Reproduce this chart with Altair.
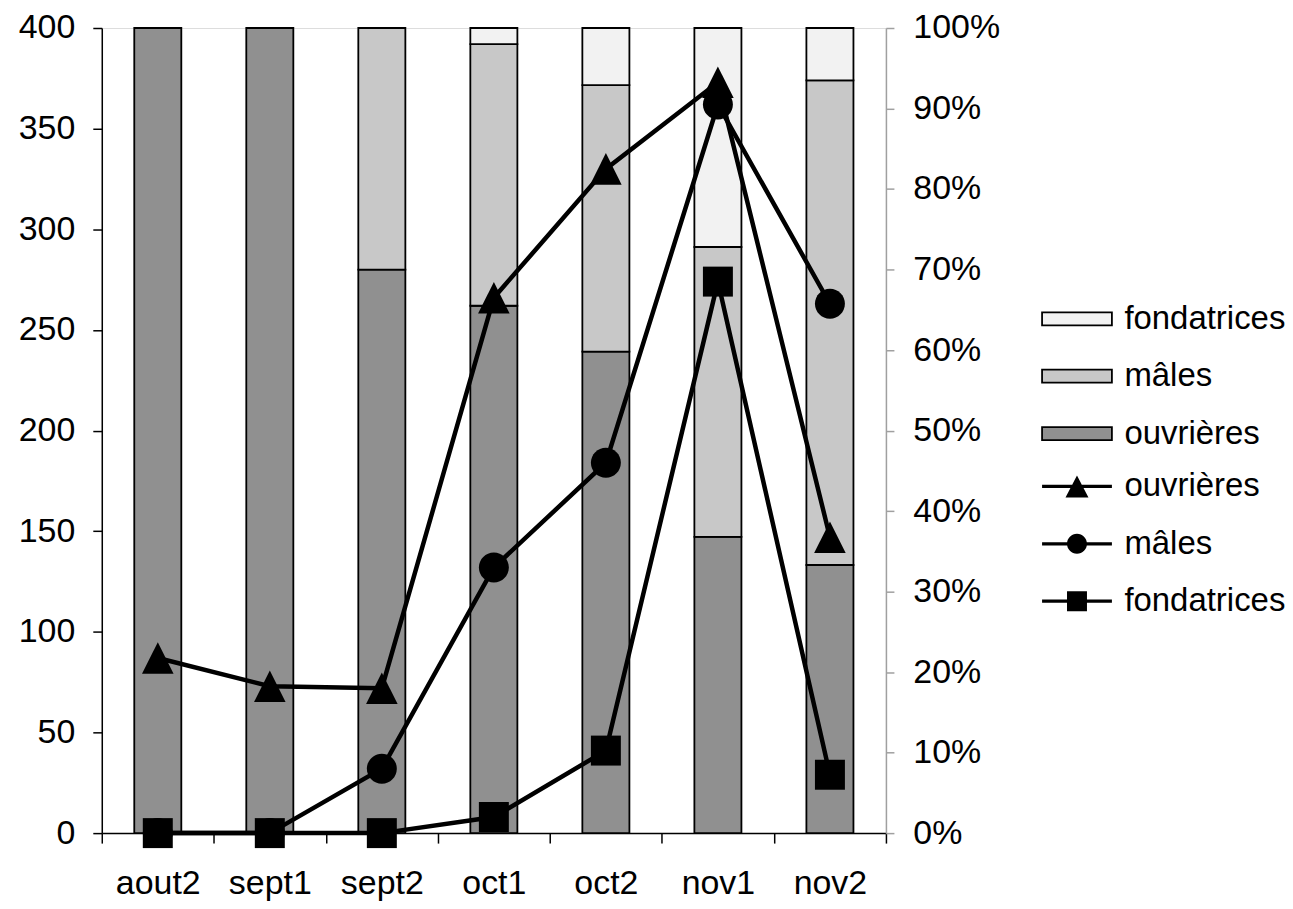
import altair as alt
import pandas as pd

categories = ["aout2", "sept1", "sept2", "oct1", "oct2", "nov1", "nov2"]

# stacked bars (right axis, %)
pct_ouvrieres = [100, 100, 70.0, 65.5, 59.8, 36.8, 33.3]
pct_males = [0, 0, 30.0, 32.5, 33.1, 36.0, 60.2]
pct_fondatrices = [0, 0, 0, 2.0, 7.1, 27.2, 6.5]

# lines (left axis, counts)
n_ouvrieres = [87, 73, 72, 266, 330, 373, 147]
n_males = [0, 0, 32, 132, 184, 362, 263]
n_fondatrices = [0, 0, 0, 8, 41, 274, 29]

bar_order = ["fondatrices", "mâles", "ouvrières"]
bar_colors = ["#f2f2f2", "#c8c8c8", "#909090"]
line_order = ["ouvrières", "mâles", "fondatrices"]

FONT = "Liberation Sans"
AX_FS = 34
LEG_FS = 33

rows_b = []
for i, c in enumerate(categories):
    for name, vals, rank in [("ouvrières", pct_ouvrieres, 0),
                             ("mâles", pct_males, 1),
                             ("fondatrices", pct_fondatrices, 2)]:
        rows_b.append({"periode": c, "categorie": name, "pct": vals[i], "rang": rank})
df_b = pd.DataFrame(rows_b)

rows_l = []
for name, vals in [("mâles", n_males), ("fondatrices", n_fondatrices), ("ouvrières", n_ouvrieres)]:
    for i, c in enumerate(categories):
        rows_l.append({"periode": c, "serie": name, "n": vals[i]})
df_l = pd.DataFrame(rows_l)

# marker shapes on the chart
marker_paths = [
    "M-1,1L0,-1L1,1Z",
    "M-0.95,0A0.95,0.95,0,1,1,0.95,0A0.95,0.95,0,1,1,-0.95,0Z",
    "M-0.95,-0.95H0.95V0.95H-0.95Z",
]
# legend symbols: line + marker
legend_paths = [
    "M-1,-0.16H2V0.16H-1Z M3,-0.16H6V0.16H3Z M1.35,1.1L2.5,-1.1L3.65,1.1Z",
    "M-1,-0.16H1.6V0.16H-1Z M3.4,-0.16H6V0.16H3.4Z M1.5,0A1,1,0,1,1,3.5,0A1,1,0,1,1,1.5,0Z",
    "M-1,-0.16H1.6V0.16H-1Z M3.4,-0.16H6V0.16H3.4Z M1.5,-1H3.5V1H1.5Z",
]
rect_path = "M-1,-0.65H6V0.65H-1Z"

x_enc = alt.X(
    "periode:N", sort=categories,
    scale=alt.Scale(paddingInner=0, paddingOuter=0),
    axis=alt.Axis(title=None, labelAngle=0, tickBand="extent", tickSize=10,
                  tickColor="black", tickWidth=1.5, domainColor="black",
                  domainWidth=1.5, labelFontSize=AX_FS, labelFont=FONT,
                  labelColor="black", labelPadding=24),
)

bars = alt.Chart(df_b).mark_bar(stroke="black", strokeWidth=1.8,
                                width=alt.RelativeBandSize(0.42)).encode(
    x=x_enc,
    y=alt.Y("pct:Q", stack="zero", scale=alt.Scale(domain=[0, 100]),
            axis=alt.Axis(orient="right", title=None, values=list(range(0, 101, 10)),
                          labelExpr="datum.value + '%'", grid=False,
                          domainColor="#a0a0a0", tickColor="#a0a0a0",
                          domainWidth=1.5, tickWidth=1.5, tickSize=8,
                          labelFontSize=AX_FS, labelFont=FONT, labelColor="black",
                          labelPadding=19)),
    fill=alt.Fill("categorie:N", scale=alt.Scale(domain=bar_order, range=bar_colors),
                  legend=alt.Legend(title=None, orient="none", legendX=936, legendY=275,
                                    symbolType=rect_path, symbolSize=400,
                                    symbolStrokeColor="black", symbolStrokeWidth=1.8,
                                    labelFontSize=LEG_FS, labelFont=FONT, labelColor="black",
                                    labelOffset=56, labelLimit=400,
                                    rowPadding=23.5, padding=0)),
    order=alt.Order("rang:Q", sort="ascending"),
)

y_l = alt.Y("n:Q", scale=alt.Scale(domain=[0, 400]),
            axis=alt.Axis(orient="left", title=None, values=list(range(0, 401, 50)),
                          grid=False, domainColor="black", tickColor="black",
                          domainWidth=1.5, tickWidth=1.5, tickSize=9,
                          labelFontSize=AX_FS, labelFont=FONT, labelColor="black",
                          labelPadding=18))

lines = alt.Chart(df_l).mark_line(color="black", strokeWidth=4.5).encode(
    x=x_enc, y=y_l, detail="serie:N")

points = alt.Chart(df_l).mark_point(filled=True, color="black", opacity=1, size=1000).encode(
    x=x_enc, y=y_l,
    shape=alt.Shape("serie:N", scale=alt.Scale(domain=line_order, range=marker_paths),
                    legend=None))

dummy = alt.Chart(df_l).mark_point(filled=True, color="black", opacity=0, size=400).encode(
    x=x_enc, y=y_l,
    shape=alt.Shape("serie:N", scale=alt.Scale(domain=line_order, range=legend_paths),
                    legend=alt.Legend(title=None, orient="none", legendX=936, legendY=443,
                                      symbolSize=400, symbolFillColor="black",
                                      symbolStrokeColor="black", symbolStrokeWidth=0,
                                      symbolOpacity=1,
                                      labelFontSize=LEG_FS, labelFont=FONT, labelColor="black",
                                      labelOffset=56, labelLimit=400,
                                      rowPadding=23.5, padding=0)))

line_layer = alt.layer(lines, points, dummy).resolve_scale(shape="independent")

chart = alt.layer(bars, line_layer).resolve_scale(y="independent").properties(
    width=786, height=807,
    autosize=alt.AutoSizeParams(type="none"),
    padding={"left": 94, "top": 19, "right": 400, "bottom": 67},
).configure_view(stroke=None).configure(background="white")

chart.save("out.html", embed_options={"renderer": "svg", "actions": False})
